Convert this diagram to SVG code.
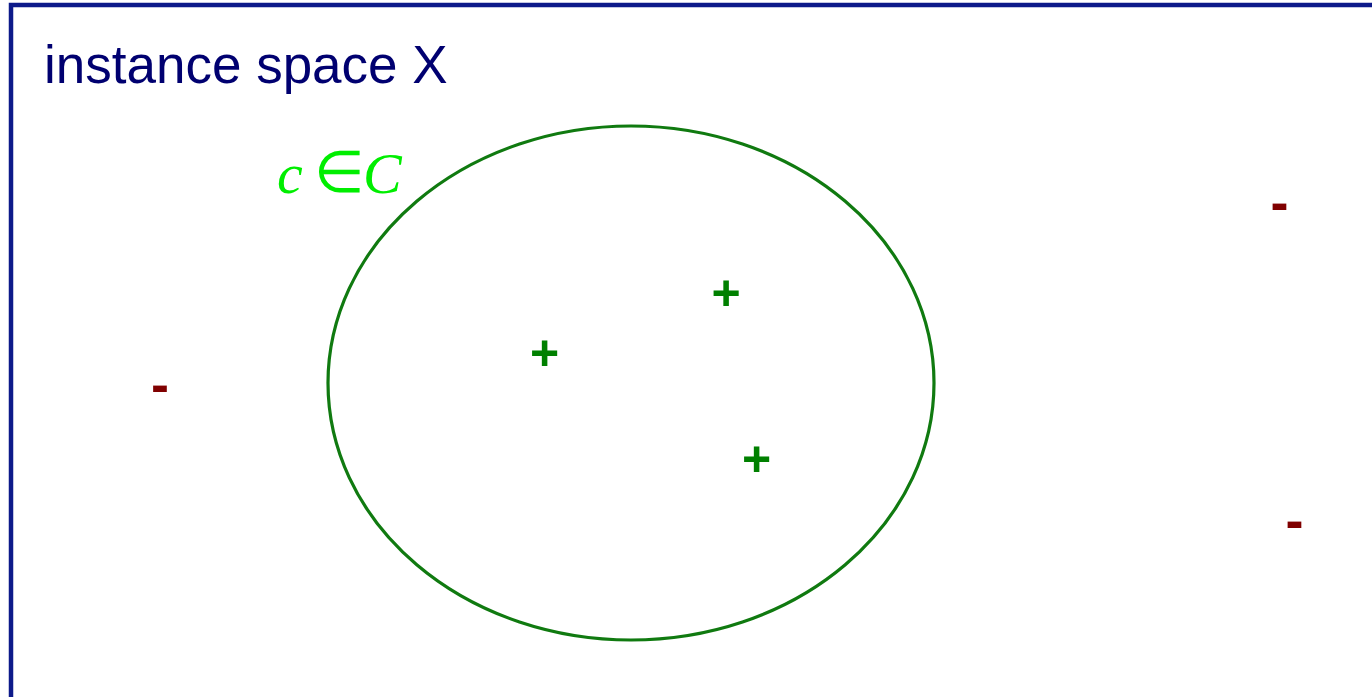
<svg xmlns="http://www.w3.org/2000/svg" width="1372" height="697" viewBox="0 0 1372 697">
  <style>
    .title { font-family: "Liberation Sans", Arial, sans-serif; font-size: 53px; fill: #000070; }
    .math { font-family: "Liberation Serif", "Times New Roman", serif; font-size: 58px; fill: #00ee00; }
    .pos { font-family: "Liberation Sans", Arial, sans-serif; font-size: 50px; font-weight: bold; fill: #008000; text-anchor: middle; }
    .neg { font-family: "Liberation Sans", Arial, sans-serif; font-size: 54px; font-weight: bold; fill: #800000; text-anchor: middle; }
  </style>
  <rect x="0" y="0" width="1372" height="697" fill="#ffffff"/>
  <g id="frame">
    <rect x="11" y="5" width="1400" height="720" fill="none" stroke="#0d1a8a" stroke-width="4.5"/>
    <text class="title" x="44" y="83">instance space X</text>
  </g>
  <g id="concept">
    <ellipse cx="631" cy="383" rx="303" ry="257" fill="none" stroke="#107a10" stroke-width="3.2"/>
    <text class="math" x="277" y="193" font-style="italic">c</text>
    <text class="math" x="314" y="192" font-size="56">∈</text>
    <text class="math" x="363" y="193" font-style="italic">C</text>
  </g>
  <g id="positives">
    <text class="pos" x="544.5" y="370">+</text>
    <text class="pos" x="726" y="309.5">+</text>
    <text class="pos" x="756.5" y="476">+</text>
  </g>
  <g id="negatives">
    <text class="neg" x="160" y="403">-</text>
    <text class="neg" x="1279.5" y="221">-</text>
    <text class="neg" x="1294.5" y="539">-</text>
  </g>
  <g id="connectors"></g>
</svg>
